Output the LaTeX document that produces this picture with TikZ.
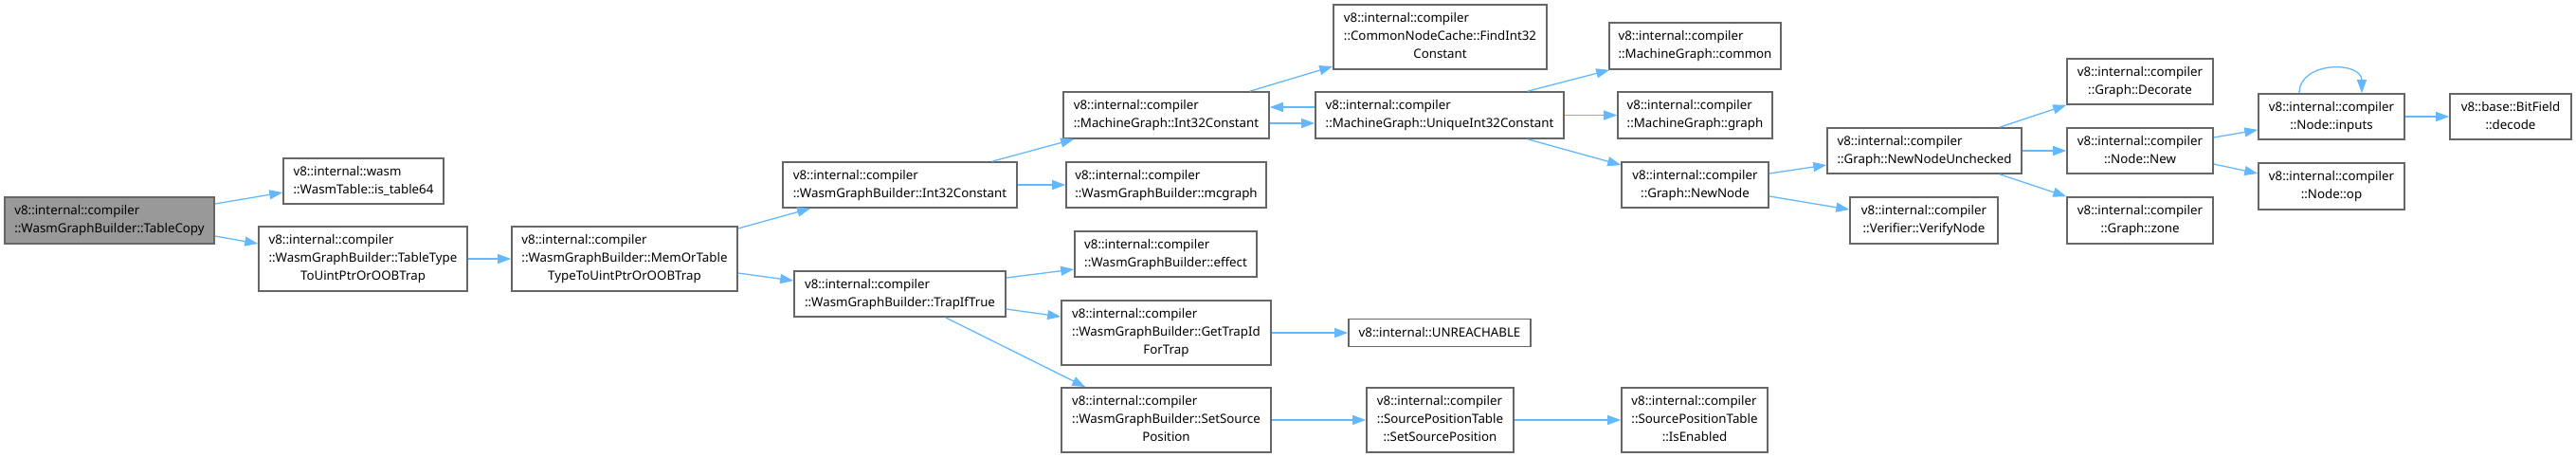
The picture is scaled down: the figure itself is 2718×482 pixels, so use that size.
\documentclass[tikz,border=0pt]{standalone}
\usepackage{fontspec}
\setmainfont{Noto Sans}
\usetikzlibrary{arrows.meta}
\definecolor{cedge}{HTML}{63B8FF}
\definecolor{cframe}{HTML}{666666}
\definecolor{cfocus}{HTML}{999999}
% all lines left aligned but the last one, which is centred
\newcommand{\fnlabel}[2]{\begin{tabular}{@{}l@{}}#1\\\multicolumn{1}{@{}c@{}}{#2}\end{tabular}}
\tikzset{
  every picture/.style={x=1pt, y=-1pt, font=\fontsize{13.3}{19}\selectfont},
  fn/.style 2 args={draw=cframe, fill=white, line width=1.6pt, inner sep=0pt, minimum width=#1pt, minimum height=#2pt},
  focus/.style={fill=cfocus},
  call/.style={-{Triangle[length=14pt, width=10pt]}, draw=cedge, line width=1.3pt},
}

\begin{document}
\begin{tikzpicture}
  \useasboundingbox (0,0) rectangle (2718,482);
  % caller and its first callees
  \node[fn={221}{49}, focus] (tablecopy) at (115.5,232.5) {\fnlabel{v8::internal::compiler}{::WasmGraphBuilder::TableCopy}};
  \node[fn={169}{48}] (table64) at (383.5,191) {\fnlabel{v8::internal::wasm}{::WasmTable::is\_table64}};
  \node[fn={220}{68}] (tabletype) at (383,273) {\fnlabel{v8::internal::compiler\\::WasmGraphBuilder::TableType}{ToUintPtrOrOOBTrap}};
  \node[fn={238}{68}] (memortable) at (659,273) {\fnlabel{v8::internal::compiler\\::WasmGraphBuilder::MemOrTable}{TypeToUintPtrOrOOBTrap}};
  \node[fn={247}{48}] (wgbint) at (949.5,195) {\fnlabel{v8::internal::compiler}{::WasmGraphBuilder::Int32Constant}};
  \node[fn={223}{48}] (trapif) at (949.5,310) {\fnlabel{v8::internal::compiler}{::WasmGraphBuilder::TrapIfTrue}};
  % WasmGraphBuilder helpers
  \node[fn={217}{49}] (mgint) at (1230.5,121.5) {\fnlabel{v8::internal::compiler}{::MachineGraph::Int32Constant}};
  \node[fn={211}{48}] (mcgraph) at (1230.5,195) {\fnlabel{v8::internal::compiler}{::WasmGraphBuilder::mcgraph}};
  \node[fn={192}{48}] (effect) at (1230,268) {\fnlabel{v8::internal::compiler}{::WasmGraphBuilder::effect}};
  \node[fn={221}{68}] (gettrap) at (1230.5,351) {\fnlabel{v8::internal::compiler\\::WasmGraphBuilder::GetTrapId}{ForTrap}};
  \node[fn={221}{68}] (setsrc) at (1230.5,443) {\fnlabel{v8::internal::compiler\\::WasmGraphBuilder::SetSource}{Position}};
  % MachineGraph and source positions
  \node[fn={225}{68}] (findint) at (1519.5,39) {\fnlabel{v8::internal::compiler\\::CommonNodeCache::FindInt32}{Constant}};
  \node[fn={262}{49}] (unique) at (1519,121.5) {\fnlabel{v8::internal::compiler}{::MachineGraph::UniqueInt32Constant}};
  \node[fn={192}{29}] (unreach) at (1519,351) {v8::internal::UNREACHABLE};
  \node[fn={155}{68}] (sptset) at (1519.5,443) {\fnlabel{v8::internal::compiler\\::SourcePositionTable}{::SetSourcePosition}};
  \node[fn={181}{49}] (common) at (1788.5,48.5) {\fnlabel{v8::internal::compiler}{::MachineGraph::common}};
  \node[fn={163}{49}] (mggraph) at (1788.5,121.5) {\fnlabel{v8::internal::compiler}{::MachineGraph::graph}};
  \node[fn={155}{48}] (newnode) at (1788.5,195) {\fnlabel{v8::internal::compiler}{::Graph::NewNode}};
  \node[fn={154}{68}] (isenabled) at (1788,443) {\fnlabel{v8::internal::compiler\\::SourcePositionTable}{::IsEnabled}};
  % Graph and Node
  \node[fn={205}{48}] (unchecked) at (2030.5,159) {\fnlabel{v8::internal::compiler}{::Graph::NewNodeUnchecked}};
  \node[fn={156}{49}] (verify) at (2030,232.5) {\fnlabel{v8::internal::compiler}{::Verifier::VerifyNode}};
  \node[fn={154}{48}] (decorate) at (2258,86) {\fnlabel{v8::internal::compiler}{::Graph::Decorate}};
  \node[fn={154}{48}] (nodenew) at (2258,159) {\fnlabel{v8::internal::compiler}{::Node::New}};
  \node[fn={154}{49}] (zone) at (2258,232.5) {\fnlabel{v8::internal::compiler}{::Graph::zone}};
  \node[fn={154}{48}] (inputs) at (2460,123) {\fnlabel{v8::internal::compiler}{::Node::inputs}};
  \node[fn={154}{49}] (op) at (2460,196.5) {\fnlabel{v8::internal::compiler}{::Node::op}};
  \node[fn={128}{48}] (decode) at (2649,123) {\fnlabel{v8::base::BitField}{::decode}};
  % straight calls
  \foreach \a/\b in {tabletype/memortable, wgbint/mcgraph, unique/mggraph, unchecked/nodenew,
                     inputs/decode, gettrap/unreach, setsrc/sptset, sptset/isenabled}
    \draw[call] (\a.east) -- (\b.west);
  % slanted calls
  \draw[call] ([yshift=17.5pt]tablecopy.east) -- ([yshift=-12pt]table64.west);
  \draw[call] ([yshift=-16.5pt]tablecopy.east) -- ([yshift=16pt]tabletype.west);
  \draw[call] ([yshift=32pt]memortable.east) -- ([xshift=30pt]wgbint.south west);
  \draw[call] ([yshift=-15pt]memortable.east) -- ([yshift=14pt]trapif.west);
  \draw[call] ([xshift=-27pt]wgbint.north east) -- ([xshift=12pt]mgint.south west);
  \draw[call] ([xshift=-21pt]mgint.north east) -- ([yshift=-31pt]findint.west);
  \draw[call] ([yshift=-8.5pt]mgint.east) -- ([yshift=-8.5pt]unique.west);
  \draw[call] ([yshift=8.5pt]unique.west) -- ([yshift=8.5pt]mgint.east);
  \draw[call] ([xshift=-39pt]unique.north east) -- ([xshift=1pt]common.south west);
  \draw[call] ([xshift=-39pt]unique.south east) -- ([yshift=21pt]newnode.west);
  \draw[call] ([yshift=12pt]newnode.east) -- ([yshift=-15pt]unchecked.west);
  \draw[call] ([yshift=-12pt]newnode.east) -- ([yshift=11.5pt]verify.west);
  \draw[call] ([xshift=-24pt]unchecked.north east) -- (decorate.south west);
  \draw[call] ([xshift=-24pt]unchecked.south east) -- (zone.north west);
  \draw[call] ([yshift=14pt]nodenew.east) -- ([yshift=-14pt]inputs.west);
  \draw[call] ([yshift=-14pt]nodenew.east) -- ([yshift=13.5pt]op.west);
  \draw[call] ([xshift=-34pt]inputs.north) .. controls +(0,-34) and +(0,-34) .. ([xshift=32pt]inputs.north);
  \draw[call] ([yshift=17pt]trapif.east) -- ([yshift=-16pt]effect.west);
  \draw[call] ([yshift=-16pt]trapif.east) -- ([yshift=17pt]gettrap.west);
  \draw[call] ([xshift=48pt]trapif.south) -- ([xshift=26pt]setsrc.north west);
\end{tikzpicture}
\end{document}
